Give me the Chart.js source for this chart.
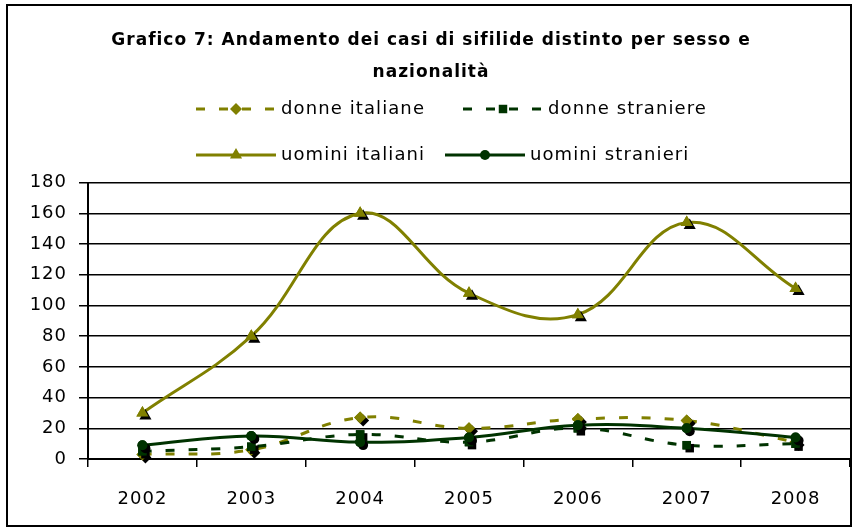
<!DOCTYPE html>
<html lang="it">
<head>
  <meta charset="UTF-8">
  <title>Grafico 7: Andamento dei casi di sifilide</title>
  <script src="https://cdn.jsdelivr.net/npm/chart.js@4.4.1/dist/chart.umd.min.js"></script>
  <style>
    body {
      margin: 0;
      background: #fff;
    }
    canvas {
      display: block;
    }
  </style>
</head>
<body>
  <canvas id="grafico" width="857" height="530"></canvas>

  <script>
    // dati
    const anni = ['2002', '2003', '2004', '2005', '2006', '2007', '2008'];
    const donneItaliane = [3, 6, 27, 20, 26, 25, 11];
    const donneStraniere = [5, 8, 16, 11, 20, 9, 10];
    const uominiItaliani = [30, 80, 160, 108, 94, 154, 111];
    const uominiStranieri = [9, 15, 11, 14, 22, 20, 14];
    const yMin = 0, yMax = 180, yStep = 20;

    const OLIVA = '#808000';
    const VERDE = '#003300';
    const FONT = 'DejaVu Sans';
    const tratteggio = [9, 14];

    function serie(label, data, colore, dash, stile, raggio, ordine) {
      return {
        label: label,
        data: data,
        borderColor: colore,
        backgroundColor: colore,
        borderWidth: 3,
        borderDash: dash,
        tension: 0.4,
        fill: false,
        pointStyle: stile,
        pointRadius: raggio,
        pointBorderWidth: 0,
        pointBackgroundColor: colore,
        pointBorderColor: colore,
        order: ordine
      };
    }

    // spaziatura lettere un po' piu larga, come nel grafico originale
    const spaziatura = {
      id: 'spaziatura',
      beforeDraw(chart) {
        chart.ctx.letterSpacing = '1px';
      }
    };

    // ombra nera sotto i marcatori, come in Excel
    const ombraMarcatori = {
      id: 'ombraMarcatori',
      afterDatasetDraw(chart, args) {
        const ctx = chart.ctx;
        ctx.save();
        ctx.shadowColor = '#000';
        ctx.shadowOffsetX = 3;
        ctx.shadowOffsetY = 3;
        ctx.shadowBlur = 0;
        args.meta.data.forEach(p => p.draw(ctx, chart.chartArea));
        ctx.restore();
      }
    };

    // legenda su due righe e cornice esterna
    const legendaPos = [
      { x: 196, y: 109 },
      { x: 463, y: 109 },
      { x: 196, y: 155 },
      { x: 445, y: 155 }
    ];
    const legenda = {
      id: 'legenda',
      afterDraw(chart) {
        const ctx = chart.ctx;
        ctx.save();
        chart.data.datasets.forEach((ds, i) => {
          const pos = legendaPos[i];
          ctx.save();
          ctx.strokeStyle = ds.borderColor;
          ctx.lineWidth = 3;
          ctx.setLineDash(ds.borderDash || []);
          ctx.beginPath();
          ctx.moveTo(pos.x, pos.y);
          ctx.lineTo(pos.x + 80, pos.y);
          ctx.stroke();
          ctx.restore();
          ctx.fillStyle = ds.pointBackgroundColor;
          Chart.helpers.drawPoint(ctx, {
            pointStyle: ds.pointStyle,
            radius: ds.pointRadius,
            rotation: 0,
            borderWidth: 0
          }, pos.x + 40, pos.y);
          ctx.fillStyle = '#000';
          ctx.letterSpacing = '1.1px';
          ctx.font = '18px "' + FONT + '"';
          ctx.textBaseline = 'middle';
          ctx.fillText(ds.label, pos.x + 85, pos.y);
        });
        ctx.strokeStyle = '#000';
        ctx.lineWidth = 2;
        ctx.strokeRect(7, 5, 844, 521);
        ctx.restore();
      }
    };

    const chart = new Chart(document.getElementById('grafico'), {
      type: 'line',
      data: {
        labels: anni,
        datasets: [
          serie('donne italiane', donneItaliane, OLIVA, tratteggio, 'rectRot', 6, 4),
          serie('donne straniere', donneStraniere, VERDE, tratteggio, 'rect', 6, 3),
          serie('uomini italiani', uominiItaliani, OLIVA, [], 'triangle', 7, 2),
          serie('uomini stranieri', uominiStranieri, VERDE, [], 'circle', 5, 1)
        ]
      },
      options: {
        responsive: false,
        animation: false,
        layout: {
          padding: { left: 10, right: 5, top: 0, bottom: 0 }
        },
        scales: {
          x: {
            offset: true,
            grid: {
              offset: true,
              drawOnChartArea: false,
              drawTicks: true,
              tickLength: 8,
              color: '#000',
              lineWidth: 1.5
            },
            border: { color: '#000', width: 2 },
            ticks: {
              color: '#000',
              padding: 22,
              font: { family: FONT, size: 18 }
            },
            afterFit: s => { s.height = 71; }
          },
          y: {
            min: yMin,
            max: yMax,
            grid: {
              color: '#000',
              lineWidth: 1.5,
              tickLength: 9
            },
            border: { color: '#000', width: 2 },
            ticks: {
              stepSize: yStep,
              color: '#000',
              padding: 12,
              font: { family: FONT, size: 18 }
            },
            afterFit: s => { s.width = 78; }
          }
        },
        plugins: {
          legend: { display: false },
          tooltip: { enabled: false },
          title: {
            display: true,
            text: ['Grafico 7: Andamento dei casi di sifilide distinto per sesso e', 'nazionalità'],
            color: '#000',
            font: { family: FONT, size: 17, weight: 'bold', lineHeight: 1.9 },
            padding: { top: 24, bottom: 94 }
          }
        }
      },
      plugins: [spaziatura, ombraMarcatori, legenda]
    });
  </script>
</body>
</html>
